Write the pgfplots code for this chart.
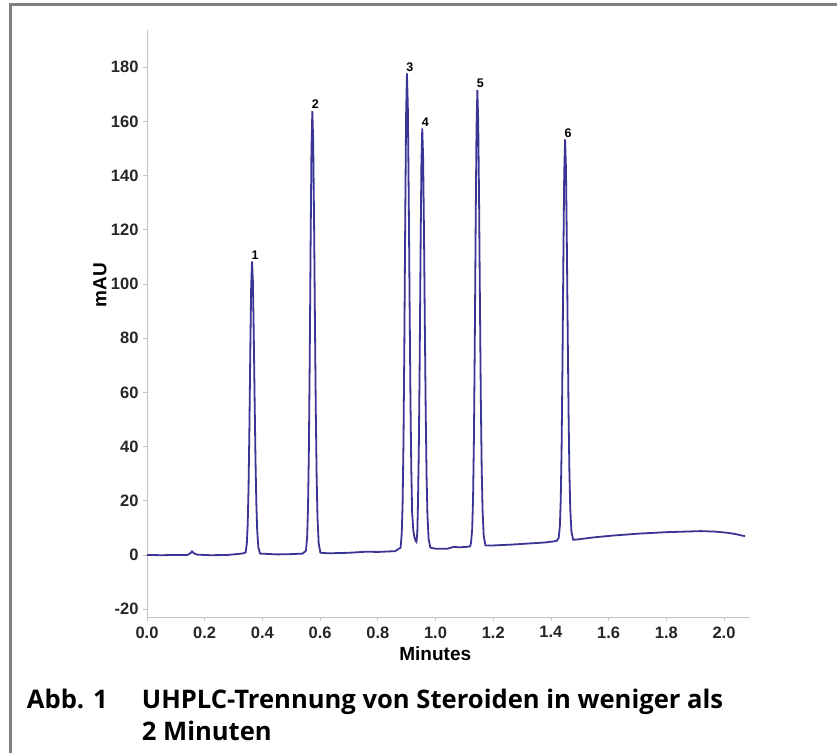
\documentclass[border=0pt]{standalone}
\usepackage{fontspec}
\setmainfont{Liberation Sans}
\newfontfamily\capfont{Open Sans}
\usepackage{pgfplots}
\pgfplotsset{compat=1.18}
\definecolor{trace}{RGB}{58,52,148}
\definecolor{framegray}{RGB}{128,128,128}
\definecolor{axgray}{RGB}{195,195,195}

\begin{document}
\begin{tikzpicture}[x=1pt,y=1pt]
\useasboundingbox (0,0) rectangle (837,753);
% page frame (top and left only)
\draw[framegray, line width=3pt] (10.5,0) -- (10.5,748.5) -- (837,748.5);

\begin{axis}[
    at={(147pt,136pt)}, anchor=south west,
    scale only axis,
    width=603pt, height=587pt,
    xmin=0, xmax=2.09,
    ymin=-22.9, ymax=193.7,
    axis lines*=left,
    axis line style={axgray, line width=0.8pt},
    tick style={axgray, line width=0.8pt},
    tick align=outside,
    major tick length=4pt,
    xtick={0,0.2,...,2.01},
    ytick={-20,0,...,180},
    xticklabel style={/pgf/number format/fixed, /pgf/number format/fixed zerofill,
        /pgf/number format/precision=1, yshift=-2pt},
    /pgf/number format/assume math mode=true,
    ticklabel style={font=\fontsize{16.5}{19}\selectfont\bfseries, text=black!85},
    yticklabel style={xshift=-1pt},
    xlabel={Minutes},
    ylabel={mAU},
    label style={font=\fontsize{19}{22}\selectfont\bfseries},
    xlabel style={at={(axis description cs:0.478,-0.063)}, anchor=center},
    ylabel style={at={(axis description cs:-0.078,0.565)}, anchor=center},
    clip=false,
]
\addplot[trace, line width=1.8pt] coordinates {
(0,0) (0.05,-0.1) (0.10,0) (0.14,0) (0.150,0.6) (0.156,1.3) (0.163,0.6) (0.175,0.1)
(0.22,-0.1) (0.28,0) (0.32,0.4) (0.335,0.6)
(0.342,1.0) (0.346,4.3) (0.349,11.2) (0.352,25.1) (0.355,47.5) (0.358,75.1) (0.361,98.8)
(0.364,108.3)
(0.367,101.0) (0.370,81.8) (0.373,57.6) (0.376,35.4) (0.379,18.9) (0.382,8.9) (0.386,2.8) (0.392,0.5)
(0.45,0.2) (0.50,0.3) (0.54,0.5)
(0.551,1.6) (0.555,6.5) (0.558,17.0) (0.561,38.1) (0.564,71.9) (0.567,113.7) (0.570,149.4)
(0.573,163.8)
(0.576,152.7) (0.579,123.8) (0.582,87.2) (0.585,53.6) (0.588,28.6) (0.591,13.6) (0.595,4.3) (0.601,0.8)
(0.63,0.6) (0.70,0.8) (0.76,1.2) (0.80,1.1) (0.86,1.4)
(0.879,2.7) (0.883,8.0) (0.886,19.3) (0.889,42.0) (0.892,78.5) (0.895,123.6) (0.898,162.2)
(0.901,177.7)
(0.904,165.7) (0.907,134.5) (0.910,95.1) (0.913,58.8) (0.916,31.8) (0.919,15.6) (0.923,9.0)
(0.927,6.5) (0.931,5.2) (0.934,4.8)
(0.937,8.5) (0.939,18.1) (0.942,38.1) (0.945,70.1) (0.948,109.8) (0.951,143.8)
(0.954,157.4)
(0.957,146.9) (0.960,119.4) (0.963,84.7) (0.966,52.8) (0.969,29.1) (0.972,14.8) (0.976,6.0) (0.982,2.7)
(1.00,2.3) (1.04,2.3) (1.065,3.0) (1.08,2.8) (1.11,3.0) (1.12,3.2)
(1.123,4.4) (1.127,9.4) (1.130,20.2) (1.133,41.9) (1.136,76.7) (1.139,119.8) (1.142,156.7)
(1.145,171.5)
(1.148,160.1) (1.151,130.3) (1.154,92.6) (1.157,57.9) (1.160,32.1) (1.163,16.7) (1.167,7.1) (1.173,3.5)
(1.20,3.5) (1.26,3.8) (1.32,4.2) (1.38,4.6) (1.41,5.0) (1.42,5.2)
(1.427,6.3) (1.431,10.8) (1.434,20.2) (1.437,39.3) (1.440,70.0) (1.443,107.9) (1.446,140.3)
(1.449,153.3)
(1.452,143.2) (1.455,117.0) (1.458,83.9) (1.461,53.4) (1.464,30.8) (1.467,17.1) (1.471,8.7) (1.477,5.6)
(1.49,5.7) (1.55,6.5) (1.62,7.2) (1.71,7.9) (1.80,8.4) (1.92,8.8) (1.97,8.6) (2.01,8.2) (2.04,7.7) (2.073,6.9)
};
% peak numbers
\begin{scope}[every node/.style={anchor=south, inner sep=0pt, yshift=2pt, xshift=3pt, font=\fontsize{12.5}{14}\selectfont\bfseries}]
\node at (axis cs:0.364,108.3) {1};
\node at (axis cs:0.573,163.8) {2};
\node at (axis cs:0.901,177.7) {3};
\node at (axis cs:0.954,157.4) {4};
\node at (axis cs:1.145,171.5) {5};
\node at (axis cs:1.449,153.3) {6};
\end{scope}
\end{axis}

% caption
\node[anchor=base west, inner sep=0pt, font=\capfont\bfseries\fontsize{25.6}{32}\selectfont] at (26.7,44.7) {Abb. 1};
\node[anchor=base west, inner sep=0pt, font=\capfont\bfseries\fontsize{25.6}{32}\selectfont] at (141.7,44.7) {UHPLC-Trennung von Steroiden in weniger als};
\node[anchor=base west, inner sep=0pt, font=\capfont\bfseries\fontsize{25.6}{32}\selectfont] at (141.7,13) {2 Minuten};
\end{tikzpicture}
\end{document}
